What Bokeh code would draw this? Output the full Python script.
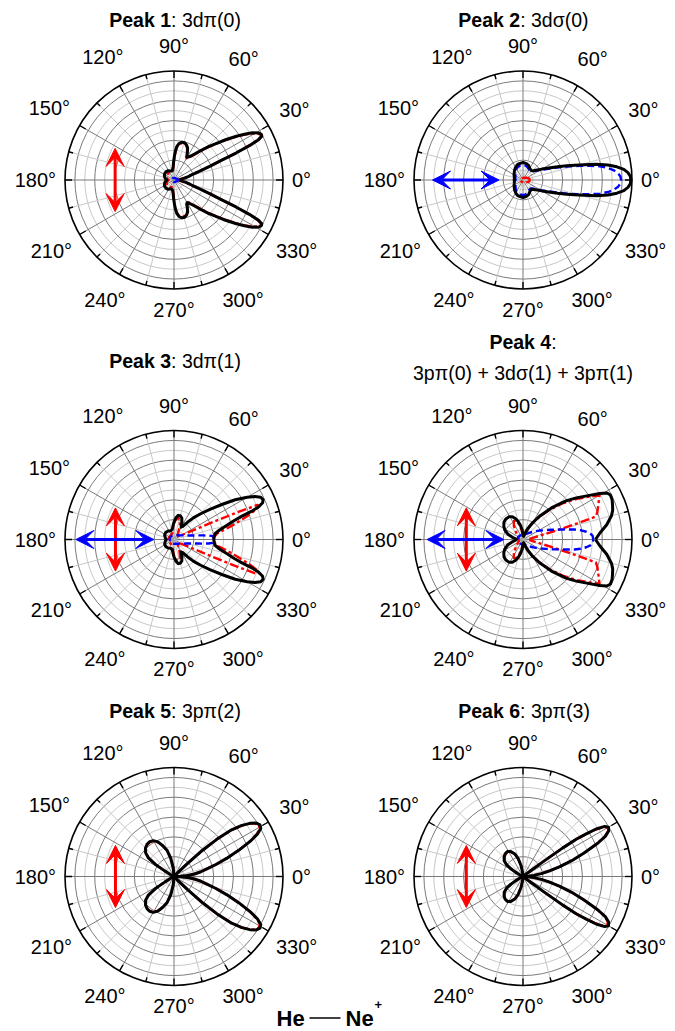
import math
from bokeh.plotting import figure
from bokeh.models import Range1d, Arrow, VeeHead
from bokeh.core.properties import value
from bokeh.embed import file_html
from bokeh.resources import INLINE

# ---------------- data (upper half, mirrored about 0 deg) ----------------
P1_K_DEG = [0, 5, 10, 14, 17, 19, 21, 22.5, 23.5, 24.5, 25.5, 26.5, 27.5, 29, 31, 33, 35, 38, 41, 44, 48, 52, 56, 60, 62, 64, 67, 70, 74, 78, 82, 85, 87, 89, 91, 94, 98, 104, 112, 122, 132, 142, 152, 162, 170, 176, 180]
P1_K_R = [0.05, 0.06, 0.10, 0.14, 0.18, 0.25, 0.36, 0.47, 0.62, 0.76, 0.86, 0.90, 0.905, 0.89, 0.84, 0.77, 0.70, 0.60, 0.51, 0.44, 0.36, 0.30, 0.26, 0.24, 0.25, 0.28, 0.32, 0.34, 0.355, 0.355, 0.34, 0.31, 0.27, 0.22, 0.17, 0.12, 0.095, 0.085, 0.09, 0.10, 0.105, 0.105, 0.10, 0.09, 0.08, 0.07, 0.065]
P1_R_R = [0.04, 0.05, 0.09, 0.13, 0.17, 0.24, 0.35, 0.46, 0.61, 0.75, 0.85, 0.89, 0.895, 0.88, 0.83, 0.76, 0.69, 0.59, 0.50, 0.43, 0.35, 0.29, 0.25, 0.23, 0.24, 0.27, 0.31, 0.335, 0.345, 0.345, 0.33, 0.30, 0.26, 0.21, 0.16, 0.11, 0.085, 0.07, 0.07, 0.075, 0.08, 0.08, 0.075, 0.07, 0.06, 0.055, 0.05]
P1_B_DEG = [0, 10, 20, 30, 45, 60, 90, 120, 150, 180]
P1_B_R = [0.04, 0.035, 0.03, 0.025, 0.02, 0.02, 0.02, 0.02, 0.02, 0.02]

P2_DEG = [0, 2, 4, 6, 8, 10, 12, 14, 16, 18, 21, 25, 30, 35, 40, 45, 50, 60, 70, 80, 90, 100, 110, 120, 130, 140, 150, 160, 170, 180]
P2_K_R = [0.99, 0.985, 0.965, 0.93, 0.87, 0.79, 0.69, 0.58, 0.49, 0.42, 0.34, 0.26, 0.20, 0.16, 0.135, 0.12, 0.115, 0.125, 0.145, 0.155, 0.16, 0.155, 0.15, 0.135, 0.12, 0.105, 0.095, 0.085, 0.08, 0.08]
P2_B_R = [0.90, 0.895, 0.875, 0.84, 0.79, 0.72, 0.63, 0.54, 0.46, 0.39, 0.31, 0.24, 0.185, 0.15, 0.125, 0.11, 0.105, 0.11, 0.125, 0.135, 0.14, 0.135, 0.13, 0.12, 0.105, 0.09, 0.08, 0.075, 0.07, 0.07]
P2_R_DEG = [0, 10, 20, 30, 45, 60, 90, 120, 150, 180]
P2_R_R = [0.065, 0.06, 0.05, 0.04, 0.03, 0.025, 0.02, 0.02, 0.02, 0.02]

P3_K_DEG = [0, 4, 8, 12, 15, 17.5, 19, 20, 21, 22.5, 24, 26, 28, 30, 33, 36, 40, 44, 48, 52, 56, 60, 65, 70, 75, 80, 85, 90, 95, 100, 110, 125, 140, 155, 170, 180]
P3_K_R = [0.365, 0.37, 0.38, 0.43, 0.50, 0.58, 0.66, 0.76, 0.83, 0.88, 0.895, 0.885, 0.84, 0.775, 0.67, 0.55, 0.43, 0.34, 0.27, 0.20, 0.145, 0.13, 0.17, 0.21, 0.225, 0.225, 0.20, 0.16, 0.12, 0.095, 0.085, 0.095, 0.10, 0.095, 0.08, 0.07]
P3_R_DEG = [0, 4, 8, 12, 15, 18, 20, 21.5, 22.5, 23.2, 24, 25, 27, 30, 40, 55, 65, 72, 78, 84, 90, 96, 105, 120, 150, 180]
P3_R_R = [0.36, 0.37, 0.40, 0.50, 0.60, 0.72, 0.80, 0.84, 0.83, 0.65, 0.42, 0.25, 0.13, 0.08, 0.05, 0.06, 0.12, 0.18, 0.20, 0.19, 0.15, 0.10, 0.06, 0.05, 0.05, 0.05]
P3_B_DEG = [0, 3, 5, 6.5, 8, 10, 13, 17, 22, 30, 45, 60, 90, 120, 150, 180]
P3_B_R = [0.365, 0.365, 0.355, 0.32, 0.27, 0.215, 0.165, 0.125, 0.10, 0.075, 0.055, 0.045, 0.04, 0.04, 0.04, 0.04]

P4_K_DEG = [0, 5, 10, 15, 18, 21, 24, 27, 29, 31, 34, 38, 42, 48, 54, 60, 66, 72, 80, 88, 95, 100, 105, 110, 115, 122, 130, 138, 145, 152, 160, 168, 175, 180]
P4_K_R = [0.665, 0.71, 0.78, 0.84, 0.865, 0.88, 0.895, 0.90, 0.88, 0.82, 0.72, 0.62, 0.53, 0.39, 0.27, 0.18, 0.11, 0.06, 0.03, 0.04, 0.09, 0.13, 0.17, 0.205, 0.23, 0.245, 0.245, 0.235, 0.215, 0.19, 0.15, 0.10, 0.07, 0.06]
P4_R_DEG = [0, 6, 10, 13, 15, 16.5, 17.5, 20, 24, 28, 30, 31, 33, 37, 42, 48, 54, 60, 70, 80, 90, 97, 104, 110, 116, 124, 135, 150, 165, 180]
P4_R_R = [0.06, 0.07, 0.10, 0.16, 0.30, 0.52, 0.70, 0.725, 0.755, 0.79, 0.81, 0.78, 0.72, 0.62, 0.50, 0.37, 0.26, 0.17, 0.09, 0.05, 0.04, 0.08, 0.14, 0.185, 0.19, 0.15, 0.09, 0.05, 0.04, 0.04]
P4_B_DEG = [0, 3, 5, 7, 9, 11, 14, 18, 22, 28, 35, 45, 60, 90, 120, 150, 180]
P4_B_R = [0.645, 0.64, 0.62, 0.585, 0.54, 0.48, 0.38, 0.29, 0.23, 0.175, 0.13, 0.09, 0.06, 0.045, 0.045, 0.05, 0.05]

P5_DEG = [0, 2, 4, 7, 10, 13, 16, 19, 22, 25, 27, 29, 31, 33, 35, 37, 39, 41, 42.5, 44, 46, 50, 60, 75, 90, 95, 100, 105, 110, 115, 120, 125, 130, 135, 140, 144, 147, 149, 152, 160, 180]
P5_K_R = [0.0, 0.06, 0.12, 0.19, 0.25, 0.31, 0.40, 0.51, 0.64, 0.78, 0.86, 0.91, 0.92, 0.90, 0.85, 0.78, 0.68, 0.52, 0.36, 0.17, 0.05, 0.0, 0.0, 0.0, 0.0, 0.08, 0.17, 0.25, 0.30, 0.35, 0.38, 0.39, 0.385, 0.37, 0.34, 0.29, 0.20, 0.10, 0.03, 0.0, 0.0]
P5_R_R = [0.0, 0.06, 0.12, 0.19, 0.25, 0.31, 0.40, 0.51, 0.64, 0.775, 0.85, 0.90, 0.91, 0.89, 0.845, 0.775, 0.675, 0.52, 0.36, 0.17, 0.05, 0.0, 0.0, 0.0, 0.0, 0.08, 0.17, 0.25, 0.30, 0.345, 0.375, 0.385, 0.38, 0.365, 0.335, 0.285, 0.20, 0.10, 0.03, 0.0, 0.0]

P6_DEG = [0, 3, 6, 9, 12, 15, 18, 21, 24, 26, 28, 30, 31.5, 33, 34, 35, 35.7, 36.3, 37, 38.5, 45, 60, 90, 95, 100, 105, 110, 116, 122, 128, 134, 140, 144, 147, 150, 153, 160, 180]
P6_K_R = [0.0, 0.05, 0.10, 0.17, 0.25, 0.35, 0.47, 0.60, 0.75, 0.84, 0.89, 0.905, 0.88, 0.80, 0.70, 0.60, 0.45, 0.25, 0.10, 0.03, 0.0, 0.0, 0.0, 0.03, 0.10, 0.17, 0.22, 0.255, 0.27, 0.265, 0.25, 0.225, 0.19, 0.14, 0.08, 0.03, 0.0, 0.0]
P6_R_R = [0.0, 0.05, 0.10, 0.17, 0.25, 0.35, 0.47, 0.60, 0.745, 0.835, 0.88, 0.895, 0.87, 0.79, 0.69, 0.59, 0.44, 0.25, 0.10, 0.03, 0.0, 0.0, 0.0, 0.03, 0.10, 0.17, 0.22, 0.25, 0.265, 0.26, 0.245, 0.22, 0.185, 0.135, 0.08, 0.03, 0.0, 0.0]

PANEL_CURVES = [
    [(P1_K_DEG, P1_R_R, "red"), (P1_B_DEG, P1_B_R, "blue"), (P1_K_DEG, P1_K_R, "black")],
    [(P2_DEG, P2_B_R, "blue"), (P2_R_DEG, P2_R_R, "red"), (P2_DEG, P2_K_R, "black")],
    [(P3_R_DEG, P3_R_R, "red"), (P3_B_DEG, P3_B_R, "blue"), (P3_K_DEG, P3_K_R, "black")],
    [(P4_R_DEG, P4_R_R, "red"), (P4_B_DEG, P4_B_R, "blue"), (P4_K_DEG, P4_K_R, "black")],
    [(P5_DEG, P5_R_R, "red"), (P5_DEG, P5_K_R, "black")],
    [(P6_DEG, P6_R_R, "red"), (P6_DEG, P6_K_R, "black")],
]

TITLE_BOLD = ["Peak 1", "Peak 2", "Peak 3", "Peak 4", "Peak 5", "Peak 6"]
TITLE_REST = [": 3d\u03c0(0)", ": 3d\u03c3(0)", ": 3d\u03c0(1)", ":", ": 3p\u03c0(2)", ": 3p\u03c0(3)"]
TITLE_LINE2 = ["", "", "", "3p\u03c0(0) + 3d\u03c3(1) + 3p\u03c0(1)", "", ""]
ANGLE_TICKS = list(range(0, 360, 30))

RED_ARROW = [(-0.54, 0.29), None, (-0.537, 0.29), (-0.52, 0.29), (-0.537, 0.285), (-0.52, 0.285)]
BLUE_ARROW = [None, (-0.83, -0.22), (-0.90, -0.185), (-0.88, -0.175), None, None]

# ---------------- layout ----------------
W, H = 675, 1031
S = 109.0  # px per radial unit
CENTERS = [(173.5, 179.5), (522.5, 179.5), (173.5, 539.0), (522.5, 539.0), (173.5, 876.0), (522.5, 876.0)]
TITLE_Y = [19.0, 19.0, 360.0, 341.0, 710.0, 710.0]
LINE2_Y = 372.0
FONT = "Liberation Sans"
TICK_FS = 20
TITLE_FS = 19.5

p = figure(width=W, height=H, x_range=Range1d(0, W), y_range=Range1d(H, 0),
           output_backend="svg", toolbar_location=None, min_border=0,
           x_axis_location=None, y_axis_location=None,
           outline_line_color=None, background_fill_color="white", border_fill_color="white")
p.xgrid.visible = False
p.ygrid.visible = False

xr, yr = {}, {}
for i, (cx, cy) in enumerate(CENTERS):
    xr[f"x{i}"] = Range1d(-cx / S, (W - cx) / S)
    yr[f"y{i}"] = Range1d(-(H - cy) / S, cy / S)
p.extra_x_ranges = xr
p.extra_y_ranges = yr

DARK = "#7a7a7a"
LIGHT = "#c8c8c8"
NR = 11


def closed(deg, r):
    angs = list(deg) + [360 - d for d in reversed(deg[:-1])]
    rr = list(r) + list(reversed(r[:-1]))
    xs = [v * math.cos(math.radians(a)) for a, v in zip(angs, rr)]
    ys = [v * math.sin(math.radians(a)) for a, v in zip(angs, rr)]
    return xs, ys


def char_w(s, bold=False):
    table = {":": 0.278 if not bold else 0.333, " ": 0.278, "(": 0.333, ")": 0.333, "\u00b0": 0.4,
             "P": 0.667, "e": 0.556, "a": 0.556, "k": 0.5 if not bold else 0.556, "+": 0.584,
             "\u03c0": 0.58, "\u03c3": 0.57}
    return sum(table.get(c, 0.556) for c in s)


for i, (cx, cy) in enumerate(CENTERS):
    kw = dict(x_range_name=f"x{i}", y_range_name=f"y{i}")
    for k in range(1, NR):
        col = DARK if k % 2 == 0 else LIGHT
        p.circle(x=[0], y=[0], radius=k / NR, fill_color=None, line_color=col, line_width=1, **kw)
    for a in range(0, 360, 15):
        col = DARK if a % 30 == 0 else LIGHT
        p.segment(x0=[0], y0=[0], x1=[math.cos(math.radians(a))], y1=[math.sin(math.radians(a))],
                  line_color=col, line_width=1, **kw)
    p.circle(x=[0], y=[0], radius=1.0, fill_color=None, line_color="black", line_width=1.6, **kw)
    for a in range(0, 360, 15):
        L = 7 / S if a % 30 == 0 else 4.5 / S
        c, s_ = math.cos(math.radians(a)), math.sin(math.radians(a))
        p.segment(x0=[c], y0=[s_], x1=[(1 - L) * c], y1=[(1 - L) * s_], line_color="black", line_width=1.4, **kw)
    for deg, rr, col in PANEL_CURVES[i]:
        xs, ys = closed(deg, rr)
        if col == "black":
            p.line(xs, ys, line_color="black", line_width=3, line_join="round", **kw)
        elif col == "red":
            p.line(xs, ys, line_color="#ff0000", line_width=2.4, line_dash="9 3 3 3", line_join="round", **kw)
        else:
            p.line(xs, ys, line_color="#0000ff", line_width=2.4, line_dash="7 4", line_join="round", **kw)
    lx, ly, lt = [], [], []
    for a in ANGLE_TICKS:
        t = f"{a}\u00b0"
        hw = char_w(t) * TICK_FS / 2
        c, s_ = math.cos(math.radians(a)), math.sin(math.radians(a))
        hh = 16 if s_ > 0 else 11.5
        rl = 1 + (9 + hw * abs(c) + hh * abs(s_)) / S
        lx.append(rl * c)
        ly.append(rl * s_)
        lt.append(t)
    p.text(x=lx, y=ly, text=lt, text_font=value(FONT), text_font_size=f"{TICK_FS}px", text_align="center",
           text_baseline="middle", text_color="black", **kw)
    wb = char_w(TITLE_BOLD[i], True) * TITLE_FS
    wn = char_w(TITLE_REST[i]) * TITLE_FS
    x0 = (wb - wn) / 2 / S
    ty = (cy - TITLE_Y[i]) / S
    p.text(x=[x0], y=[ty], text=[TITLE_BOLD[i]], text_font=value(FONT), text_font_size=f"{TITLE_FS}px",
           text_font_style="bold", text_align="right", text_baseline="middle", **kw)
    p.text(x=[x0], y=[ty], text=[TITLE_REST[i]], text_font=value(FONT), text_font_size=f"{TITLE_FS}px",
           text_align="left", text_baseline="middle", **kw)
    if TITLE_LINE2[i]:
        p.text(x=[0], y=[(cy - LINE2_Y) / S], text=[TITLE_LINE2[i]], text_font=value(FONT),
               text_font_size=f"{TITLE_FS}px", text_align="center", text_baseline="middle", **kw)
    if RED_ARROW[i] is not None:
        ax, ah = RED_ARROW[i]
        p.add_layout(Arrow(start=VeeHead(size=18, fill_color="#ff0000", line_color="#ff0000"),
                           end=VeeHead(size=18, fill_color="#ff0000", line_color="#ff0000"),
                           x_start=ax, y_start=-ah, x_end=ax, y_end=ah, line_color="#ff0000",
                           line_width=3, **kw))
    if BLUE_ARROW[i] is not None:
        b0, b1 = BLUE_ARROW[i]
        p.add_layout(Arrow(start=VeeHead(size=18, fill_color="#0000ff", line_color="#0000ff"),
                           end=VeeHead(size=18, fill_color="#0000ff", line_color="#0000ff"),
                           x_start=b0, y_start=0, x_end=b1, y_end=0, line_color="#0000ff",
                           line_width=3, **kw))

# He —— Ne+ label (page pixel coordinates)
HE_FS = 22
p.text(x=[276], y=[1018], text=["He"], text_font=value(FONT), text_font_size=f"{HE_FS}px", text_font_style="bold",
       text_align="left", text_baseline="middle")
p.segment(x0=[309], y0=[1017.5], x1=[340], y1=[1017.5], line_color="black", line_width=1.5)
p.text(x=[345], y=[1018], text=["Ne"], text_font=value(FONT), text_font_size=f"{HE_FS}px", text_font_style="bold",
       text_align="left", text_baseline="middle")
p.text(x=[374], y=[1004], text=["+"], text_font=value(FONT), text_font_size="13px", text_font_style="bold",
       text_align="left", text_baseline="middle")

open("out.html", "w").write(file_html(p, INLINE))
